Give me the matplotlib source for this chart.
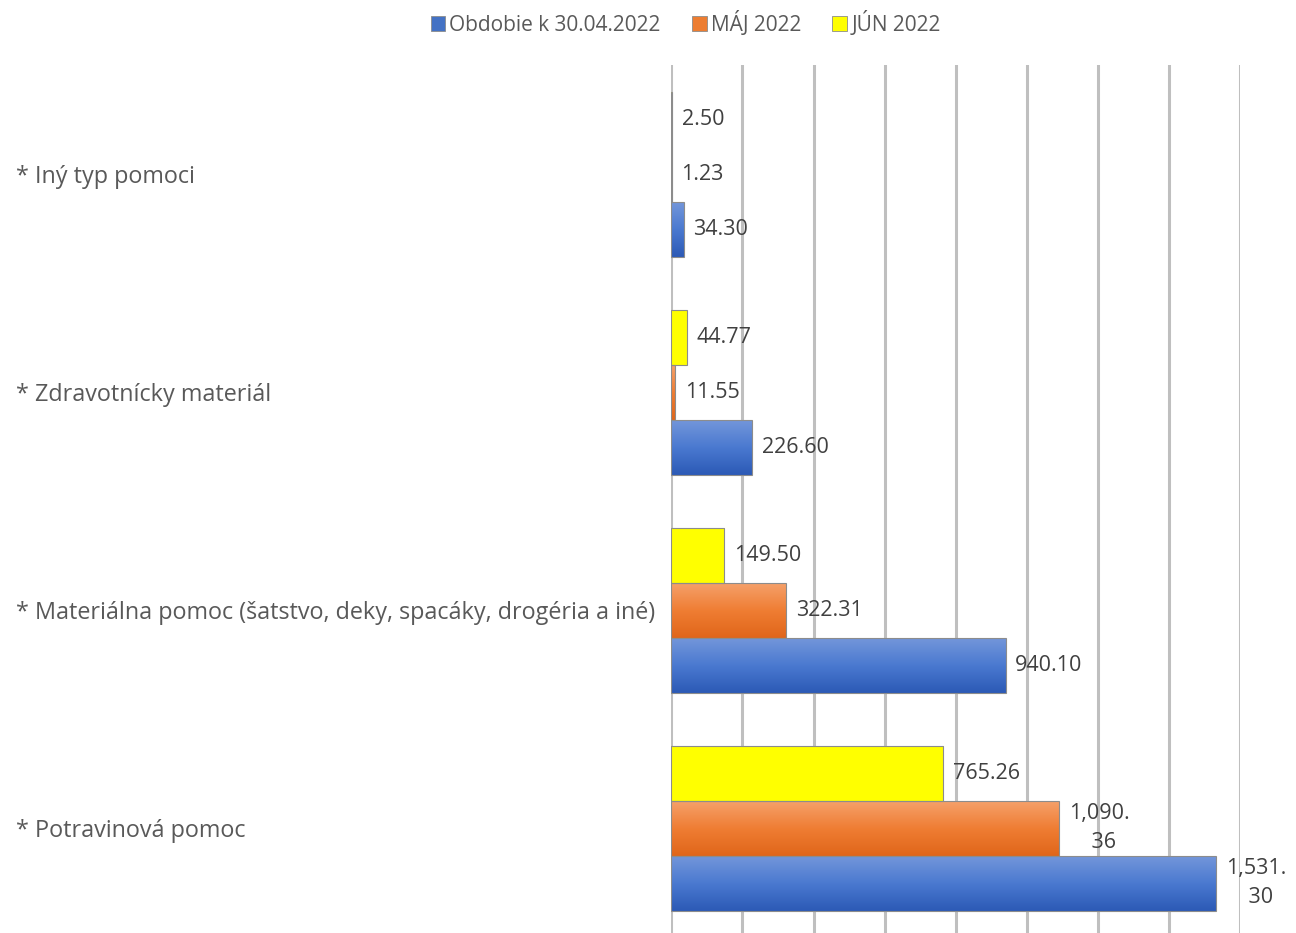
import numpy as np
import matplotlib.pyplot as plt
from matplotlib.colors import LinearSegmentedColormap
from matplotlib.patches import Patch

categories = ["* Potravinová pomoc",
              "* Materiálna pomoc (šatstvo, deky, spacáky, drogéria a iné)",
              "* Zdravotnícky materiál",
              "* Iný typ pomoci"]
series = ["Obdobie k 30.04.2022", "MÁJ 2022", "JÚN 2022"]
apr = [1531.30, 940.10, 226.60, 34.30]
maj = [1090.36, 322.31, 11.55, 1.23]
jun = [765.26, 149.50, 44.77, 2.50]

plt.rcParams['font.family'] = ['Open Sans', 'DejaVu Sans']

fig = plt.figure(figsize=(12.96, 9.33), dpi=100)
ax = fig.add_axes((0.518, 0.0, 0.439, 0.930))

cmaps = [LinearSegmentedColormap.from_list('b', ['#2c5ab6', '#4a79d0', '#7396da']),
         LinearSegmentedColormap.from_list('o', ['#e0661a', '#ef7d33', '#f5a06a']),
         LinearSegmentedColormap.from_list('y', ['#ffff00', '#ffff00'])]
flat = ['#4472c4', '#ed7d31', '#ffff00']

y = np.arange(len(categories))
h = 0.252
grad = np.linspace(0, 1, 64).reshape(-1, 1)

for i, vals in enumerate([apr, maj, jun]):
    pos = y + (i - 1) * h
    bars = ax.barh(pos, vals, height=h, color='none', edgecolor='#8c8c8c',
                   linewidth=0.8, zorder=3)
    for b, v in zip(bars, vals):
        x0, y0 = b.get_x(), b.get_y()
        im = ax.imshow(grad, extent=(x0, x0 + b.get_width(), y0, y0 + b.get_height()),
                       origin='lower', aspect='auto', cmap=cmaps[i], zorder=2)
        im.set_clip_path(b)
        txt = f"{v:,.2f}"
        if v >= 1000:
            a, c = txt.split('.')
            txt = a + ".\n    " + c
        ax.annotate(txt, (v, b.get_y() + b.get_height() / 2), xytext=(7, 0),
                    textcoords='offset points', ha='left', va='center',
                    fontsize=15.5, color='#404040', linespacing=1.5, zorder=4)

ax.set_xlim(0, 1600)
ax.set_ylim(-0.48, 3.5)
ax.set_xticks(np.arange(0, 1601, 200))
ax.set_xticklabels([])
ax.tick_params(axis='x', length=0)
ax.grid(axis='x', color='#bfbfbf', linewidth=2.2)
ax.set_axisbelow(True)
for s in ax.spines.values():
    s.set_visible(False)

ax.set_yticks(y)
ax.set_yticklabels(categories, fontsize=16.8, color='#595959')
ax.tick_params(axis='y', length=0, pad=472)
for lab in ax.get_yticklabels():
    lab.set_horizontalalignment('left')

handles = [Patch(facecolor=flat[i], edgecolor='#8c8c8c', linewidth=0.6, label=series[i])
           for i in range(3)]
fig.legend(handles=handles, loc='center', bbox_to_anchor=(0.529, 0.975), ncol=3,
           frameon=False, fontsize=15, handlelength=0.7, handleheight=0.7,
           handletextpad=0.2, columnspacing=1.5, labelcolor='#595959')

fig.savefig('out.png', dpi=100)
